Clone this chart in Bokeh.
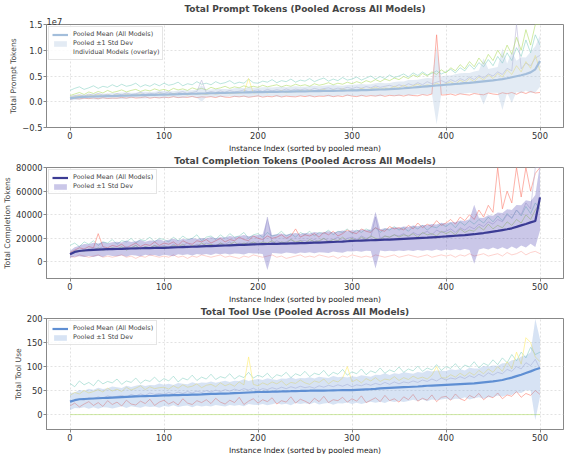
from bokeh.plotting import figure
from bokeh.layouts import column
from bokeh.models import (FixedTicker, CustomJSTickFormatter, Legend, LegendItem,
                          Title, ColumnDataSource)
from bokeh.embed import file_html
from bokeh.resources import INLINE

# ---------------- data (sampled every 5 instances, sorted by pooled mean) ----------------
idx = list(range(0, 501, 5))

# Total prompt tokens, in millions
prompt_mean = [0.65, 0.8, 0.9, 0.95, 1.0, 1.02, 1.05, 1.07, 1.1, 1.12,
               1.15, 1.17, 1.2, 1.22, 1.25, 1.27, 1.3, 1.32, 1.35, 1.37,
               1.4, 1.42, 1.45, 1.47, 1.5, 1.52, 1.55, 1.57, 1.6, 1.62,
               1.65, 1.67, 1.7, 1.72, 1.75, 1.77, 1.8, 1.81, 1.83, 1.84,
               1.86, 1.88, 1.9, 1.91, 1.93, 1.94, 1.96, 1.98, 2.0, 2.01,
               2.03, 2.04, 2.06, 2.08, 2.1, 2.11, 2.13, 2.14, 2.16, 2.18,
               2.2, 2.22, 2.25, 2.27, 2.3, 2.34, 2.38, 2.41, 2.45, 2.5,
               2.55, 2.62, 2.7, 2.77, 2.85, 2.92, 3.0, 3.07, 3.15, 3.22,
               3.3, 3.37, 3.45, 3.52, 3.6, 3.67, 3.75, 3.85, 3.95, 4.05,
               4.15, 4.27, 4.4, 4.57, 4.75, 4.95, 5.15, 5.4, 5.7, 6.3,
               7.9]
prompt_std = [0.4, 0.45, 0.5, 0.42, 0.48, 0.55, 0.6, 0.5, 0.52, 0.58,
              0.55, 0.62, 0.6, 0.52, 0.5, 0.65, 0.65, 0.58, 0.6, 0.7,
              0.7, 0.62, 0.6, 0.72, 0.75, 0.66, 0.7, 0.78, 1.6, 0.7,
              0.75, 0.82, 0.8, 0.74, 0.7, 0.85, 0.9, 0.82, 1.0, 0.88,
              0.85, 0.92, 0.9, 0.84, 0.95, 1.0, 0.85, 0.94, 1.0, 0.9,
              0.9, 1.0, 1.05, 0.95, 1.0, 1.1, 1.1, 1.0, 0.95, 1.05,
              1.1, 1.15, 1.2, 1.1, 1.1, 1.25, 1.3, 1.2, 1.2, 1.35,
              1.4, 1.3, 1.5, 1.45, 1.4, 1.55, 1.6, 1.5, 7.5, 1.7,
              1.8, 1.75, 1.9, 2.0, 2.0, 1.9, 2.1, 2.2, 4.5, 2.3,
              2.4, 2.5, 6.0, 2.8, 5.0, 3.0, 3.5, 3.2, 4.0, 4.5,
              5.0]
prompt_models = {
    "#8dd3c7": [2.2, 2.6, 2.9, 2.4, 2.7, 3.1, 2.6, 3.0, 2.8, 3.3,
                2.9, 3.4, 3.0, 3.2, 3.6, 2.9, 3.3, 3.0, 3.5, 3.1,
                3.6, 3.2, 3.4, 3.8, 3.1, 3.5, 3.3, 3.9, 3.4, 3.6,
                3.3, 3.9, 3.5, 3.7, 4.1, 3.5, 3.8, 3.6, 4.4, 3.7,
                3.6, 4.0, 3.8, 4.3, 3.7, 4.1, 3.9, 4.4, 3.8, 4.2,
                4.0, 4.5, 3.9, 4.3, 4.6, 4.0, 4.4, 4.1, 4.7, 4.2,
                4.4, 4.8, 4.2, 4.6, 5.0, 4.4, 4.9, 4.5, 5.2, 4.7,
                5.0, 5.4, 4.8, 5.6, 5.1, 5.8, 5.2, 5.5, 6.0, 5.4,
                5.8, 6.3, 5.6, 6.6, 6.0, 7.2, 6.3, 7.6, 6.8, 8.2,
                7.0, 8.8, 7.5, 9.5, 8.0, 10.5, 8.8, 12.0, 9.5, 13.0,
                11.0],
    "#fb8072": [0.5, 0.65, 0.55, 0.7, 0.6, 0.75, 0.58, 0.8, 0.62, 0.72,
                0.68, 0.85, 0.7, 0.9, 0.72, 0.8, 0.95, 0.7, 0.85, 0.75,
                0.9, 0.78, 1.0, 0.8, 0.92, 0.85, 1.05, 0.8, 0.95, 0.88,
                1.0, 0.82, 1.1, 0.9, 0.85, 1.05, 0.95, 1.1, 0.88, 1.0,
                1.15, 0.9, 1.05, 0.95, 1.2, 0.92, 1.1, 1.0, 0.95, 1.15,
                1.0, 1.2, 0.95, 1.1, 1.05, 1.25, 0.98, 1.15, 1.0, 1.3,
                1.1, 1.0, 1.25, 1.05, 1.2, 1.1, 1.3, 1.05, 1.25, 1.15,
                1.3, 1.1, 1.35, 1.2, 1.15, 1.4, 1.25, 1.5, 13.0, 1.3,
                1.35, 1.5, 1.25, 1.55, 1.4, 1.3, 1.6, 1.45, 1.35, 1.7,
                1.5, 1.4, 1.75, 1.55, 1.8, 1.45, 1.9, 1.6, 2.0, 1.7,
                1.8],
    "#bebada": [1.0, 1.2, 1.35, 1.1, 1.5, 1.25, 1.6, 1.3, 1.45, 1.2,
                1.6, 1.35, 1.7, 1.4, 1.55, 1.8, 1.45, 1.65, 1.5, 1.85,
                1.6, 1.9, 1.55, 1.75, 1.95, 1.6, 1.8, 2.0, 4.2, 1.7,
                2.0, 1.8, 2.1, 1.85, 2.2, 1.9, 2.05, 2.3, 1.95, 2.15,
                2.3, 2.0, 2.4, 2.1, 2.35, 2.15, 2.5, 2.2, 2.45, 2.3,
                2.5, 2.25, 2.6, 2.35, 2.55, 2.7, 2.4, 2.65, 2.5, 2.8,
                2.55, 2.85, 2.6, 2.95, 2.7, 3.1, 2.8, 3.0, 3.2, 2.9,
                3.3, 3.0, 3.5, 3.2, 3.7, 3.3, 3.9, 3.5, 3.8, 4.1,
                3.7, 4.3, 3.9, 4.5, 4.1, 4.8, 4.3, 5.1, 4.6, 5.4,
                5.0, 5.8, 5.3, 6.5, 6.0, 15.0, 6.4, 7.5, 7.0, 8.5,
                9.0],
    "#ffed6f": [0.8, 1.0, 1.2, 0.95, 1.3, 1.1, 1.4, 1.05, 1.3, 1.15,
                1.35, 1.1, 1.45, 1.2, 1.35, 1.5, 1.25, 1.4, 1.3, 1.55,
                1.4, 1.25, 1.6, 1.35, 1.5, 1.3, 1.65, 1.45, 1.55, 1.4,
                1.7, 1.5, 1.6, 1.8, 1.55, 1.75, 1.65, 1.85, 4.5, 1.7,
                1.8, 1.95, 1.7, 2.0, 1.85, 2.1, 1.75, 2.05, 1.9, 2.2,
                1.95, 2.25, 2.0, 2.15, 2.4, 2.05, 2.3, 2.1, 2.5, 2.2,
                2.4, 2.2, 2.6, 2.35, 2.5, 2.8, 2.45, 2.7, 2.55, 3.0,
                2.7, 3.2, 2.8, 3.1, 3.4, 2.95, 3.3, 3.1, 3.6, 3.2,
                3.5, 3.9, 3.4, 4.2, 3.7, 4.5, 3.9, 4.8, 4.2, 5.2,
                4.5, 5.5, 4.8, 6.2, 5.3, 7.0, 5.8, 7.8, 6.5, 9.0,
                6.0],
    "#b3de69": [1.2, 1.5, 1.8, 1.4, 1.9, 1.6, 2.0, 1.7, 2.2, 1.8,
                2.0, 2.3, 1.9, 2.2, 2.4, 2.0, 2.3, 2.1, 2.5, 2.2,
                2.4, 2.1, 2.6, 2.3, 2.5, 2.2, 2.7, 2.4, 2.6, 2.3,
                2.8, 2.5, 2.7, 3.0, 2.6, 2.9, 2.7, 3.1, 2.8, 3.0,
                2.8, 3.2, 2.9, 3.1, 3.3, 2.9, 3.2, 3.0, 3.4, 3.1,
                3.3, 3.0, 3.5, 3.2, 3.4, 3.7, 3.3, 3.6, 3.4, 3.8,
                3.5, 3.9, 3.6, 4.1, 3.8, 4.3, 3.9, 4.4, 4.1, 4.6,
                4.3, 4.9, 4.5, 5.2, 4.8, 5.5, 5.0, 5.8, 5.3, 6.2,
                5.6, 6.6, 6.0, 7.2, 6.4, 7.8, 6.8, 8.5, 7.3, 9.2,
                8.0, 10.0, 8.6, 11.0, 9.2, 12.5, 10.0, 14.0, 11.0, 15.0,
                15.0],
}

# Total completion tokens, in thousands
completion_mean = [6.5, 8.5, 9.3, 9.7, 10.0, 10.3, 10.5, 10.7, 10.8, 10.9,
                   11.0, 11.15, 11.3, 11.4, 11.5, 11.6, 11.7, 11.8, 11.9, 11.95,
                   12.0, 12.15, 12.3, 12.45, 12.6, 12.75, 12.9, 13.05, 13.2, 13.35,
                   13.5, 13.65, 13.8, 13.95, 14.1, 14.25, 14.4, 14.55, 14.7, 14.85,
                   15.0, 15.1, 15.2, 15.3, 15.4, 15.5, 15.6, 15.7, 15.8, 15.9,
                   16.0, 16.15, 16.3, 16.45, 16.6, 16.75, 16.9, 17.1, 17.3, 17.55,
                   17.8, 17.95, 18.1, 18.25, 18.4, 18.55, 18.7, 18.85, 19.0, 19.2,
                   19.4, 19.6, 19.8, 20.0, 20.2, 20.4, 20.6, 20.85, 21.1, 21.35,
                   21.6, 21.9, 22.2, 22.5, 22.8, 23.15, 23.5, 24.0, 24.5, 25.1,
                   25.7, 26.3, 27.0, 27.7, 28.5, 29.7, 31.0, 32.2, 33.5, 34.7,
                   54.7]
completion_std = [3.0, 4.0, 4.5, 5.5, 5.0, 6.0, 5.2, 6.5, 5.0, 5.8,
                  6.2, 5.4, 6.8, 5.6, 6.0, 7.0, 5.5, 6.4, 6.0, 7.2,
                  5.8, 6.6, 7.4, 6.0, 6.8, 6.2, 7.5, 6.4, 7.0, 6.6,
                  7.6, 6.5, 7.2, 6.8, 7.8, 7.0, 7.4, 8.2, 7.0, 7.6,
                  7.8, 8.4, 22.0, 7.6, 8.0, 8.6, 7.5, 8.2, 8.8, 7.8,
                  8.5, 8.0, 9.0, 8.2, 8.6, 9.2, 8.0, 8.8, 9.4, 8.4,
                  9.0, 8.6, 9.5, 8.8, 9.2, 24.0, 9.0, 9.8, 9.4, 10.2,
                  9.6, 10.4, 9.8, 10.8, 10.0, 11.0, 10.4, 11.4, 10.6, 11.8,
                  11.0, 12.0, 11.4, 12.6, 11.8, 13.0, 25.0, 13.4, 12.8, 14.5,
                  13.5, 15.5, 14.5, 17.0, 15.5, 18.5, 17.0, 20.0, 18.0, 22.0,
                  28.0]
completion_models = {
    "#8dd3c7": [14, 16, 13, 17, 15, 18, 14, 17, 16, 19,
                15, 18, 17, 20, 16, 19, 18, 21, 17, 20,
                19, 17, 21, 18, 22, 19, 20, 23, 18, 21,
                22, 19, 23, 20, 24, 21, 22, 25, 20, 23,
                24, 21, 25, 22, 23, 26, 22, 24, 21, 25,
                23, 26, 22, 25, 24, 27, 23, 26, 25, 28,
                24, 27, 25, 28, 26, 29, 25, 28, 27, 30,
                27, 29, 26, 30, 28, 31, 27, 30, 29, 32,
                30, 33, 29, 34, 31, 35, 32, 36, 33, 38,
                34, 39, 35, 41, 37, 44, 39, 47, 41, 50,
                45],
    "#fcb4ae": [5, 4, 6, 5, 4, 5, 6, 4, 5, 4,
                5, 6, 4, 5, 3, 5, 4, 6, 5, 4,
                5, 4, 6, 4, 5, 3, 5, 4, 6, 5,
                4, 5, 6, 4, 5, 4, 3, 5, 4, 6,
                5, 4, 5, 6, 4, 5, 3, 4, 5, 6,
                4, 5, 4, 6, 5, 4, 5, 3, 5, 4,
                6, 5, 4, 5, 4, 6, 5, 4, 5, 6,
                4, 5, 6, 5, 4, 5, 6, 4, 5, 6,
                5, 6, 4, 6, 5, 7, 5, 6, 7, 5,
                6, 7, 5, 8, 6, 7, 9, 6, 8, 9,
                7],
    "#fb8072": [8, 10, 12, 11, 13, 12, 24, 13, 12, 14,
                13, 15, 12, 14, 16, 13, 15, 14, 17, 14,
                16, 15, 17, 14, 18, 16, 15, 18, 17, 19,
                16, 18, 20, 17, 19, 18, 21, 19, 18, 22,
                20, 19, 22, 20, 21, 23, 20, 22, 28, 21,
                23, 22, 24, 21, 25, 23, 26, 22, 24, 27,
                25, 24, 28, 26, 25, 29, 27, 26, 30, 28,
                29, 27, 31, 28, 33, 29, 32, 30, 35, 31,
                33, 36, 32, 38, 35, 40, 36, 44, 38, 48,
                42, 80, 45, 60, 50, 80, 55, 80, 60, 75,
                80],
    "#bebada": [6, 8, 9, 11, 10, 12, 11, 13, 10, 12,
                12, 11, 13, 12, 14, 11, 13, 12, 14, 13,
                14, 12, 15, 13, 14, 16, 13, 15, 14, 16,
                15, 14, 16, 15, 17, 14, 16, 15, 17, 16,
                17, 15, 38, 16, 18, 16, 17, 19, 16, 18,
                18, 17, 19, 17, 20, 18, 19, 21, 18, 20,
                21, 19, 22, 20, 21, 38, 20, 22, 21, 23,
                22, 24, 21, 25, 23, 24, 26, 23, 27, 25,
                26, 28, 25, 29, 27, 30, 28, 32, 30, 34,
                32, 36, 34, 40, 37, 44, 40, 50, 45, 80,
                80],
    "#b3de69": [7, 9, 10, 9, 11, 10, 12, 10, 11, 12,
                11, 13, 10, 12, 14, 11, 13, 12, 14, 12,
                13, 12, 14, 13, 15, 12, 14, 13, 16, 14,
                15, 13, 16, 14, 15, 17, 14, 16, 15, 17,
                15, 17, 16, 18, 15, 17, 16, 19, 17, 18,
                16, 19, 17, 18, 20, 17, 19, 18, 21, 18,
                20, 18, 21, 19, 22, 20, 19, 22, 21, 23,
                21, 23, 22, 24, 21, 25, 23, 24, 22, 26,
                24, 26, 23, 28, 25, 27, 26, 30, 27, 32,
                28, 31, 29, 34, 31, 36, 33, 40, 36, 44,
                50],
}

# Total tool use
tool_mean = [27, 30, 32, 32.5, 33, 33.5, 34, 34.5, 35, 35.5,
             36, 36.5, 37, 37.5, 38, 38.2, 38.5, 38.7, 39, 39.5,
             40, 40.2, 40.5, 40.7, 41, 41.2, 41.5, 41.7, 42, 42.5,
             43, 43.2, 43.5, 43.7, 44, 44.5, 45, 45.5, 46, 46.5,
             47, 47.2, 47.5, 47.7, 48, 48.2, 48.5, 48.7, 49, 49.2,
             49.5, 49.7, 50, 50, 50, 50.2, 50.5, 50.7, 51, 51,
             51, 51.5, 52, 52.5, 53, 53.7, 54.5, 55, 55.5, 56,
             56.5, 57, 57.5, 58, 58.5, 59.2, 60, 60.5, 61, 61.5,
             62, 62.5, 63, 63.5, 64, 64.5, 65, 66, 67, 68,
             69, 70.5, 72, 74.5, 77, 80, 83, 86.5, 90, 94,
             97]
tool_std = [18, 16, 19, 17, 21, 18, 22, 19, 20, 23,
            21, 19, 23, 20, 22, 24, 21, 23, 22, 25,
            22, 24, 21, 25, 23, 22, 26, 23, 25, 24,
            26, 23, 25, 27, 24, 26, 25, 28, 24, 26,
            27, 25, 28, 26, 24, 27, 26, 29, 25, 27,
            26, 28, 25, 29, 27, 26, 30, 27, 28, 26,
            29, 27, 30, 28, 26, 29, 28, 31, 27, 30,
            28, 31, 29, 27, 30, 28, 32, 29, 31, 30,
            29, 32, 30, 31, 28, 33, 31, 30, 34, 32,
            33, 31, 35, 33, 36, 34, 38, 36, 40, 105,
            60]
tool_models = {
    "#8dd3c7": [65, 58, 70, 62, 67, 60, 72, 64, 69, 66,
                74, 63, 70, 67, 76, 65, 72, 69, 78, 68,
                75, 70, 80, 68, 76, 72, 82, 71, 78, 74,
                84, 73, 79, 76, 85, 74, 81, 77, 88, 76,
                82, 78, 86, 75, 83, 80, 88, 77, 85, 81,
                90, 79, 86, 83, 92, 80, 88, 84, 94, 82,
                89, 85, 95, 83, 91, 87, 97, 86, 93, 89,
                99, 88, 95, 91, 101, 90, 97, 93, 104, 92,
                100, 96, 106, 94, 103, 99, 110, 97, 107, 102,
                114, 104, 118, 108, 125, 112, 130, 118, 140, 125,
                130],
    "#fb8072": [18, 24, 16, 22, 27, 19, 25, 17, 29, 21,
                26, 18, 30, 22, 20, 28, 23, 32, 19, 26,
                30, 22, 27, 20, 33, 24, 21, 29, 25, 31,
                23, 34, 26, 22, 30, 25, 36, 21, 28, 33,
                24, 31, 27, 35, 22, 29, 26, 37, 24, 32,
                28, 23, 34, 27, 38, 25, 31, 29, 36, 26,
                33, 28, 39, 25, 30, 35, 27, 40, 29, 33,
                26, 37, 31, 42, 28, 34, 30, 41, 27, 36,
                38, 30, 43, 33, 29, 40, 35, 44, 31, 39,
                35, 45, 33, 41, 38, 48, 36, 44, 40, 50,
                42],
    "#ffed6f": [40, 46, 43, 50, 45, 48, 52, 47, 55, 49,
                53, 48, 57, 51, 55, 60, 52, 58, 54, 56,
                57, 53, 60, 55, 62, 57, 59, 64, 56, 61,
                63, 58, 66, 60, 64, 59, 68, 62, 120, 63,
                60, 66, 62, 68, 64, 70, 61, 67, 65, 72,
                66, 63, 70, 67, 74, 64, 71, 68, 76, 100,
                68, 73, 66, 75, 70, 77, 69, 74, 72, 79,
                71, 77, 73, 80, 75, 78, 74, 82, 100, 77,
                76, 83, 78, 86, 80, 88, 82, 92, 85, 95,
                88, 100, 90, 110, 95, 130, 105, 160, 150, 120,
                110],
    "#bebada": [25, 29, 32, 30, 35, 33, 37, 34, 39, 36,
                38, 40, 36, 42, 39, 43, 40, 45, 42, 44,
                42, 46, 43, 47, 44, 48, 45, 49, 46, 50,
                47, 51, 48, 52, 49, 53, 50, 54, 51, 55,
                50, 54, 52, 56, 53, 57, 54, 58, 55, 59,
                56, 58, 55, 60, 57, 61, 58, 62, 59, 63,
                58, 62, 60, 64, 61, 65, 62, 67, 63, 68,
                64, 68, 66, 70, 67, 72, 69, 74, 70, 76,
                72, 76, 74, 79, 75, 81, 77, 84, 79, 87,
                82, 88, 85, 94, 90, 100, 95, 108, 102, 115,
                95],
    "#b3de69": [0, 0, 0, 0, 0, 0, 0, 0, 0, 0,
                0, 0, 0, 0, 0, 0, 0, 0, 0, 0,
                0, 0, 0, 0, 0, 0, 0, 0, 0, 0,
                0, 0, 0, 0, 0, 0, 0, 0, 0, 0,
                0, 0, 0, 0, 0, 0, 0, 0, 0, 0,
                0, 0, 0, 0, 0, 0, 0, 0, 0, 0,
                0, 0, 0, 0, 0, 0, 0, 0, 0, 0,
                0, 0, 0, 0, 0, 0, 0, 0, 0, 0,
                0, 0, 0, 0, 0, 0, 0, 0, 0, 0,
                0, 0, 0, 0, 0, 0, 0, 0, 0, 0,
                0],
}

for arr in [prompt_mean, prompt_std, completion_mean, completion_std, tool_mean, tool_std,
            *prompt_models.values(), *completion_models.values(), *tool_models.values()]:
    assert len(arr) == len(idx), len(arr)

FONT = "DejaVu Sans"
W = 565
XLABEL = "Instance Index (sorted by pooled mean)"


def make_panel(title, ylabel, mean, std, models, scale, mean_color, band_color, band_alpha,
               y_range, y_ticks, height, overlay_legend):
    p = figure(width=W, height=height, x_range=(-25, 525), y_range=y_range,
               output_backend="svg", toolbar_location=None,
               min_border_left=40, min_border_right=2, min_border_top=2, min_border_bottom=0)
    p.title.text = title
    p.title.align = "center"
    p.title.text_font = FONT
    p.title.text_font_size = "9px"
    p.title.text_font_style = "bold"
    p.title.text_line_height = 1.0
    p.title.offset = 0
    p.title.standoff = 3

    for color, vals in models.items():
        p.line(idx, [v * scale for v in vals], line_color=color, line_alpha=0.6, line_width=1.0)

    m = [v * scale for v in mean]
    lo = [(a - b) * scale for a, b in zip(mean, std)]
    hi = [(a + b) * scale for a, b in zip(mean, std)]
    src = ColumnDataSource(dict(x=idx, m=m, lo=lo, hi=hi))
    band = p.varea(x="x", y1="lo", y2="hi", source=src, fill_color=band_color, fill_alpha=band_alpha)
    ml = p.line("x", "m", source=src, line_color=mean_color, line_width=2.2)

    items = [LegendItem(label="Pooled Mean (All Models)", renderers=[ml]),
             LegendItem(label="Pooled \u00b11 Std Dev", renderers=[band])]
    if overlay_legend:
        dummy = p.line([], [], line_color="#b0b0b0", line_alpha=0.6, line_width=1)
        items.append(LegendItem(label="Individual Models (overlay)", renderers=[dummy]))
    leg = Legend(items=items, location="top_left")
    leg.label_text_font = FONT
    leg.label_text_font_size = "6.4px"
    leg.label_height = 8
    leg.glyph_height = 7
    leg.glyph_width = 16
    leg.spacing = 1
    leg.padding = 3
    leg.margin = 2
    leg.label_standoff = 5
    leg.border_line_color = "#cccccc"
    leg.background_fill_alpha = 0.85
    p.add_layout(leg)

    p.xaxis.ticker = FixedTicker(ticks=[0, 100, 200, 300, 400, 500])
    p.yaxis.ticker = FixedTicker(ticks=y_ticks)
    p.yaxis.axis_label = ylabel
    for ax in (p.xaxis, p.yaxis):
        ax.axis_label_text_font = FONT
        ax.axis_label_text_font_size = "7.6px"
        ax.axis_label_text_font_style = "normal"
        ax.axis_label_text_line_height = 1.0
        ax.axis_label_standoff = 1
        ax.major_label_text_font = FONT
        ax.major_label_text_font_size = "8.3px"
        ax.major_label_text_line_height = 1.0
        ax.major_label_text_color = "#333333"
        ax.major_label_standoff = 1
        ax.major_tick_out = 3
        ax.major_tick_in = 0
        ax.minor_tick_line_color = None
        ax.axis_line_color = "#888888"
        ax.major_tick_line_color = "#888888"
    # x-axis title as a text panel below the axis
    p.add_layout(Title(text=XLABEL, align="center", text_font=FONT, text_font_size="7.6px",
                       text_font_style="normal", text_color="#222222", standoff=0, offset=0,
                       text_line_height=1.0), "below")
    p.outline_line_color = "#888888"
    p.grid.grid_line_color = "#dadada"
    p.grid.grid_line_dash = "2 2"
    p.grid.grid_line_width = 0.8
    p.background_fill_color = "white"
    p.border_fill_color = "white"
    return p


p1 = make_panel("Total Prompt Tokens (Pooled Across All Models)", "Total Prompt Tokens",
                prompt_mean, prompt_std, prompt_models, 1e6, "#a3bedb", "#a3bedb", 0.3,
                (-5e6, 1.5e7), [-5e6, 0, 5e6, 1e7, 1.5e7], 152, True)
p1.yaxis.formatter = CustomJSTickFormatter(
    code="return (tick/1e7).toFixed(1).replace('-', '\u2212');")
offset_title = Title(text="1e7", align="left", text_font=FONT, text_font_size="8.3px",
                     text_font_style="normal", text_color="#333333", standoff=0, offset=0,
                     text_line_height=1.0)
p1.above.insert(0, offset_title)

p2 = make_panel("Total Completion Tokens (Pooled Across All Models)", "Total Completion Tokens",
                completion_mean, completion_std, completion_models, 1e3, "#3b3b94", "#5a50b8", 0.32,
                (-14000, 80000), [0, 20000, 40000, 60000, 80000], 151, False)

p3 = make_panel("Total Tool Use (Pooled Across All Models)", "Total Tool Use",
                tool_mean, tool_std, tool_models, 1, "#5f8fd3", "#7aa2dc", 0.3,
                (-31, 200), [0, 50, 100, 150, 200], 151, False)

layout = column(p1, p2, p3, spacing=0)
open("out.html", "w").write(file_html(layout, INLINE))
